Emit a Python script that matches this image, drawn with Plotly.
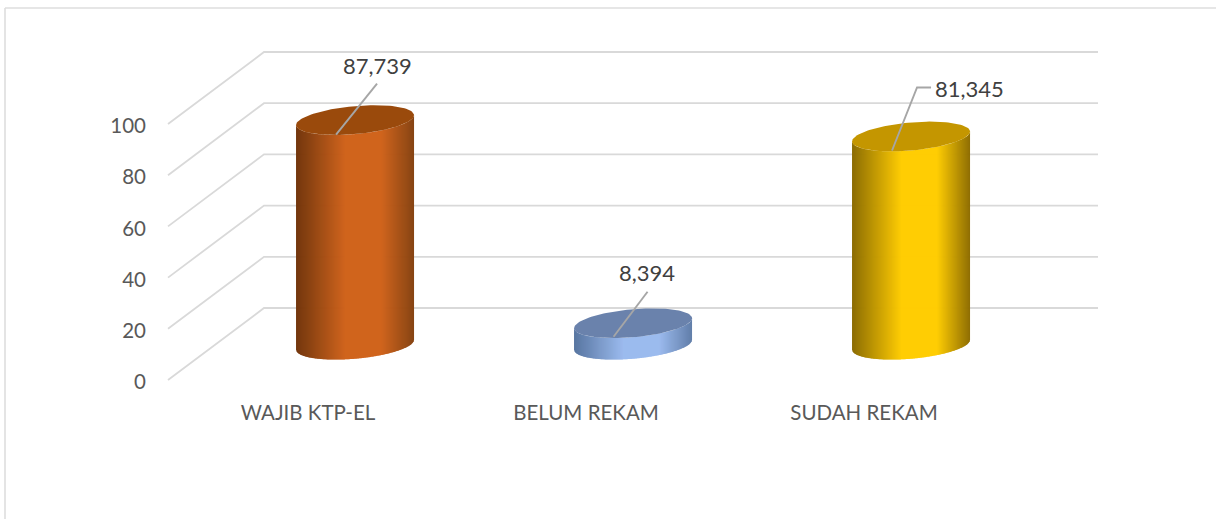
import math
import plotly.graph_objects as go

# ---- data ----
categories = ["WAJIB KTP-EL", "BELUM REKAM", "SUDAH REKAM"]
values = [87739, 8394, 81345]
tick_values = [0, 20, 40, 60, 80, 100]

# ---- style / layout constants ----
W, H = 1216, 519
FONT = "Lato"
GRID = "#d9d9d9"
PX_X = 278.0          # pixels per category
PX_Y = 2.56           # pixels per axis unit (thousands)
X0_PX = 308.0         # pixel of first category on the front edge
Y0_PX = 380.0         # pixel of value 0 on the front edge
WALL_X = 96 / PX_X    # depth offset of the back wall
WALL_Y = 72 / PX_Y
BAR_DEPTH = 0.49      # cylinders stand at this fraction of the depth
A_PX, B_PX, SHEAR_PX = 59.0, 14.0, 5.0
LEFT, RIGHT = (168 - X0_PX) / PX_X, (1098 - X0_PX) / PX_X
STRIPS = 118

PALETTES = [
    dict(dark="#70340a", mid="#d0621a", right="#854210", top="#9a4a0c"),
    dict(dark="#55739f", mid="#9abaee", right="#5f7ca8", top="#6a82ac"),
    dict(dark="#8a6a00", mid="#ffcc00", right="#8d6c00", top="#c49600"),
]
LEADERS = [
    [(-19, 14.5), (22, -36.5)],
    [(-19.5, 13.5), (14.5, -31.5)],
    [(-19, 14), (6, -49), (20, -49)],
]
LABEL_OFFSETS = [(22, -55), (14, -51), (58, -48)]


def dx(px):
    return px / PX_X


def dy(px):
    return -px / PX_Y  # pixels grow downwards, values upwards


def hex_rgb(c):
    return [int(c[i:i + 2], 16) for i in (1, 3, 5)]


def shade(p, f):
    stops = [(0.0, p["dark"]), (0.42, p["mid"]), (0.72, p["mid"]), (1.0, p["right"])]
    for (a, ca), (b, cb) in zip(stops, stops[1:]):
        if f <= b:
            u = (f - a) / (b - a)
            ra, rb = hex_rgb(ca), hex_rgb(cb)
            return "rgb(%d,%d,%d)" % tuple(round(x + (y - x) * u) for x, y in zip(ra, rb))
    return p["right"]


def rim(cx, cy, t):
    """Point of the tilted ellipse at angle t, in data coordinates."""
    return (cx + dx(A_PX * math.cos(t)),
            cy + dy(-SHEAR_PX * math.cos(t) + B_PX * math.sin(t)))


fig = go.Figure()

# walls: gridlines with their diagonal floor-side run
gx, gy = [], []
for v in tick_values:
    gx += [LEFT, LEFT + WALL_X, RIGHT, None]
    gy += [v, v + WALL_Y, v + WALL_Y, None]
fig.add_trace(go.Scatter(x=gx, y=gy, mode="lines", line=dict(color=GRID, width=1.8),
                         hoverinfo="skip", showlegend=False))

# cylinders
for i, (name, value, pal) in enumerate(zip(categories, values, PALETTES)):
    v = value / 1000
    cx = i + BAR_DEPTH * WALL_X
    base = BAR_DEPTH * WALL_Y
    top = base + v
    # side surface as narrow vertical strips, left to right
    for s in range(STRIPS):
        f0 = s / STRIPS
        f1 = min(1.0, (s + 1.6) / STRIPS)
        ts = [math.acos(max(-1, min(1, 1 - 2 * (f0 + (f1 - f0) * k / 3)))) for k in range(4)]
        ts = [math.pi - t for t in ts]
        upper = [rim(cx, top, t) for t in ts]
        lower = [rim(cx, base, t) for t in ts]
        poly = upper + lower[::-1]
        fig.add_trace(go.Scatter(
            x=[p[0] for p in poly] + [poly[0][0]],
            y=[p[1] for p in poly] + [poly[0][1]],
            mode="lines", fill="toself", fillcolor=shade(pal, (s + 0.5) / STRIPS),
            line=dict(width=0), hoverinfo="skip", showlegend=False, name=name))
    # top cap
    cap = [rim(cx, top, 2 * math.pi * k / 120) for k in range(121)]
    fig.add_trace(go.Scatter(
        x=[p[0] for p in cap], y=[p[1] for p in cap], mode="lines", fill="toself",
        fillcolor=pal["top"], line=dict(width=0), hoverinfo="skip", showlegend=False, name=name))
    # leader line
    fig.add_trace(go.Scatter(
        x=[cx + dx(p[0]) for p in LEADERS[i]], y=[top + dy(p[1]) for p in LEADERS[i]],
        mode="lines", line=dict(color="#a6a6a6", width=1.9), hoverinfo="skip", showlegend=False))
    # value label
    ox, oy = LABEL_OFFSETS[i]
    fig.add_annotation(x=cx + dx(ox), y=top + dy(oy), text=f"{value:,}", showarrow=False,
                       xref="x", yref="y", font=dict(family=FONT, size=22, color="#404040"))

# chart frame (top and left edges only are within the picture)
fig.add_shape(type="line", xref="paper", yref="paper", x0=5 / W, x1=5 / W, y0=0, y1=1 - 8 / H,
              line=dict(color="#dedede", width=1.6))
fig.add_shape(type="line", xref="paper", yref="paper", x0=5 / W, x1=1, y0=1 - 8 / H, y1=1 - 8 / H,
              line=dict(color="#dedede", width=1.6))

fig.update_layout(
    width=W, height=H, margin=dict(l=0, r=0, t=0, b=0),
    paper_bgcolor="white", plot_bgcolor="white", showlegend=False,
    xaxis=dict(
        range=[(0 - X0_PX) / PX_X, (W - X0_PX) / PX_X], fixedrange=True,
        anchor="free", position=1 - 398 / H, side="bottom",
        tickmode="array", tickvals=list(range(len(categories))), ticktext=categories,
        showgrid=False, zeroline=False, showline=False, ticks="", tickangle=0,
        tickfont=dict(family=FONT, size=20.5, color="#595959"),
    ),
    yaxis=dict(
        range=[(Y0_PX - H) / PX_Y, Y0_PX / PX_Y], fixedrange=True,
        anchor="free", position=146 / W, side="left", ticklabelshift=2,
        tickmode="array", tickvals=tick_values, ticktext=[str(t) for t in tick_values],
        showgrid=False, zeroline=False, showline=False, ticks="",
        tickfont=dict(family=FONT, size=20.5, color="#595959"),
    ),
)

fig.write_html(
    "out.html",
    config={"displayModeBar": False},
    post_script="document.body.style.margin='0';document.body.style.overflow='hidden';",
)
